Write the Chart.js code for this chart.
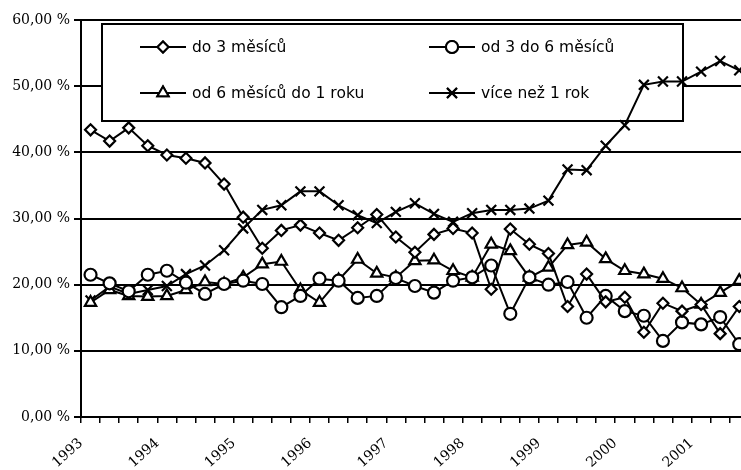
<!DOCTYPE html>
<html>
<head>
<meta charset="utf-8">
<script src="https://cdn.jsdelivr.net/npm/chart.js@4.4.1/dist/chart.umd.min.js"></script>
<style>
  html, body { margin: 0; padding: 0; background: #fff; overflow: hidden; }
  #wrap { width: 758px; height: 470px; }
</style>
</head>
<body>
<div id="wrap"><canvas id="chart" width="758" height="470"></canvas></div>
<script>
// quarterly shares, 1993 Q1 .. 2001 Q3
const yearLabels = ['1993', '1994', '1995', '1996', '1997', '1998', '1999', '2000', '2001'];

const do3 = [43.4, 41.7, 43.7, 41.0, 39.6, 39.1, 38.4, 35.2, 30.2, 25.5,
  28.2, 29.0, 27.8, 26.7, 28.6, 30.6, 27.2, 24.9, 27.6, 28.5,
  27.8, 19.3, 28.4, 26.1, 24.7, 16.7, 21.6, 17.4, 18.1, 12.8,
  17.2, 16.0, 17.0, 12.6, 16.7];

const od3do6 = [21.5, 20.2, 19.0, 21.5, 22.1, 20.3, 18.6, 20.1, 20.6, 20.1,
  16.6, 18.3, 20.9, 20.6, 18.0, 18.3, 21.0, 19.8, 18.8, 20.6,
  21.1, 22.9, 15.6, 21.1, 20.0, 20.4, 15.0, 18.3, 16.0, 15.3,
  11.5, 14.3, 14.0, 15.1, 11.0];

const od6do12 = [17.3, 19.2, 18.3, 18.2, 18.3, 19.2, 20.4, 20.1, 21.1, 23.1,
  23.5, 19.2, 17.3, 20.7, 23.8, 21.7, 21.1, 23.6, 23.7, 22.1,
  21.1, 26.1, 25.1, 21.1, 22.6, 26.0, 26.4, 23.9, 22.1, 21.6,
  20.9, 19.5, 17.0, 18.8, 20.6];

const nad1 = [17.6, 19.7, 18.6, 19.2, 19.8, 21.6, 22.9, 25.2, 28.5, 31.3,
  32.0, 34.1, 34.1, 32.0, 30.5, 29.3, 31.0, 32.3, 30.7, 29.5,
  30.8, 31.3, 31.3, 31.5, 32.7, 37.4, 37.3, 41.0, 44.1, 50.2,
  50.7, 50.7, 52.2, 53.8, 52.4];

const toPts = arr => arr.map((v, i) => ({ x: i + 0.5, y: v }));

function series(label, arr, style, radius) {
  return {
    label: label,
    data: toPts(arr),
    borderColor: '#000',
    borderWidth: 2,
    backgroundColor: '#fff',
    pointStyle: style,
    pointRadius: radius,
    pointBorderWidth: 2.2,
    pointBorderColor: '#000',
    pointBackgroundColor: '#fff',
    tension: 0
  };
}

// legend box sits over the grid but under the lines
const boxLegend = {
  id: 'boxLegend',
  beforeDatasetsDraw(chart) {
    const ctx = chart.ctx;
    const a = chart.chartArea;
    const bx = a.left + 21, by = a.top + 4, bw = 581, bh = 97;
    ctx.save();
    ctx.fillStyle = '#fff';
    ctx.fillRect(bx, by, bw, bh);
    ctx.strokeStyle = '#000';
    ctx.lineWidth = 2;
    ctx.strokeRect(bx, by, bw, bh);
    const cols = [a.left + 59, a.left + 348];
    const rows = [a.top + 27, a.top + 73];
    ctx.font = '15.5px "DejaVu Sans"';
    ctx.textBaseline = 'middle';
    ctx.fillStyle = '#000';
    chart.data.datasets.forEach((ds, i) => {
      const x = cols[i % 2], y = rows[Math.floor(i / 2)];
      ctx.beginPath();
      ctx.moveTo(x, y);
      ctx.lineTo(x + 46, y);
      ctx.lineWidth = 2;
      ctx.strokeStyle = '#000';
      ctx.stroke();
      Chart.helpers.drawPoint(ctx, {
        pointStyle: ds.pointStyle, radius: ds.pointRadius, borderWidth: 2, rotation: 0
      }, x + 23, y);
      ctx.fillStyle = '#fff';
      if (ds.pointStyle !== 'crossRot') ctx.fill();
      ctx.stroke();
      ctx.fillStyle = '#000';
      ctx.fillText(ds.label, x + 52, y + 1);
    });
    ctx.restore();
  }
};

new Chart(document.getElementById('chart'), {
  type: 'line',
  data: {
    datasets: [
      series('do 3 měsíců', do3, 'rectRot', 5.5),
      series('od 3 do 6 měsíců', od3do6, 'circle', 6),
      series('od 6 měsíců do 1 roku', od6do12, 'triangle', 6.5),
      series('více než 1 rok', nad1, 'crossRot', 7)
    ]
  },
  options: {
    responsive: false,
    animation: false,
    devicePixelRatio: 1,
    layout: { padding: { top: 20, right: 3, left: 0, bottom: 0 } },
    plugins: { legend: { display: false }, tooltip: { enabled: false } },
    scales: {
      x: {
        type: 'linear',
        min: 0,
        max: 35,
        afterFit: s => { s.height = 53; s.paddingLeft = 0; s.paddingRight = 0; },
        afterBuildTicks: s => { s.ticks = Array.from({ length: 36 }, (_, k) => ({ value: k })); },
        ticks: {
          autoSkip: false,
          maxRotation: 42,
          minRotation: 42,
          padding: 12,
          color: '#000',
          font: { family: 'DejaVu Serif', size: 14 },
          callback: v => (v % 4 === 0 && yearLabels[v / 4]) ? yearLabels[v / 4] : ''
        },
        grid: { drawOnChartArea: false, drawTicks: true, tickLength: 6, color: '#000', lineWidth: 1.5 },
        border: { color: '#000', width: 2 }
      },
      y: {
        min: 0,
        max: 60,
        afterFit: s => { s.width = 81; s.paddingTop = 0; s.paddingBottom = 0; },
        ticks: {
          stepSize: 10,
          padding: 4,
          color: '#000',
          font: { family: 'DejaVu Serif', size: 14, weight: '500' },
          callback: v => v.toFixed(2).replace('.', ',') + ' %'
        },
        grid: { color: '#000', lineWidth: 2, drawTicks: true, tickLength: 7 },
        border: { color: '#000', width: 2 }
      }
    }
  },
  plugins: [boxLegend]
});
</script>
</body>
</html>
